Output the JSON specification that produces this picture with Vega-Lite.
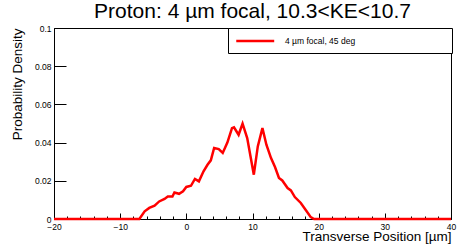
{
  "$schema": "https://vega.github.io/schema/vega-lite/v6.json",
  "width": 397,
  "height": 191,
  "autosize": "none",
  "padding": {"left": 54, "top": 28, "right": 7, "bottom": 25},
  "background": "white",
  "title": {"text": "Proton: 4 µm focal, 10.3<KE<10.7", "font": "Liberation Sans", "fontSize": 21, "fontWeight": "normal", "color": "black", "anchor": "middle", "baseline": "alphabetic", "offset": -15, "frame": "group"},
  "config": {
    "view": {"stroke": "black", "strokeWidth": 1},
    "axis": {"domainColor": "black", "tickColor": "black", "labelColor": "black", "titleColor": "black", "labelFont": "Liberation Sans", "titleFont": "Liberation Sans", "grid": false, "titleFontWeight": "normal", "ticks": true, "tickWidth": 1}
  },
  "data": {"values": [
    {"x": -20, "y": 0, "s": "4 µm focal, 45 deg"},
    {"x": -7.1, "y": 0, "s": "4 µm focal, 45 deg"},
    {"x": -6.3, "y": 0.004, "s": "4 µm focal, 45 deg"},
    {"x": -5.6, "y": 0.0058, "s": "4 µm focal, 45 deg"},
    {"x": -4.8, "y": 0.007, "s": "4 µm focal, 45 deg"},
    {"x": -4.1, "y": 0.0092, "s": "4 µm focal, 45 deg"},
    {"x": -3.3, "y": 0.0105, "s": "4 µm focal, 45 deg"},
    {"x": -2.8, "y": 0.0118, "s": "4 µm focal, 45 deg"},
    {"x": -2.1, "y": 0.0118, "s": "4 µm focal, 45 deg"},
    {"x": -1.8, "y": 0.0139, "s": "4 µm focal, 45 deg"},
    {"x": -1.1, "y": 0.0132, "s": "4 µm focal, 45 deg"},
    {"x": -0.5, "y": 0.0145, "s": "4 µm focal, 45 deg"},
    {"x": 0.0, "y": 0.0168, "s": "4 µm focal, 45 deg"},
    {"x": 0.7, "y": 0.0174, "s": "4 µm focal, 45 deg"},
    {"x": 1.3, "y": 0.021, "s": "4 µm focal, 45 deg"},
    {"x": 1.9, "y": 0.0197, "s": "4 µm focal, 45 deg"},
    {"x": 2.6, "y": 0.025, "s": "4 µm focal, 45 deg"},
    {"x": 3.2, "y": 0.0284, "s": "4 µm focal, 45 deg"},
    {"x": 3.7, "y": 0.0307, "s": "4 µm focal, 45 deg"},
    {"x": 4.2, "y": 0.0372, "s": "4 µm focal, 45 deg"},
    {"x": 4.9, "y": 0.0366, "s": "4 µm focal, 45 deg"},
    {"x": 5.5, "y": 0.0346, "s": "4 µm focal, 45 deg"},
    {"x": 6.2, "y": 0.040, "s": "4 µm focal, 45 deg"},
    {"x": 6.9, "y": 0.0476, "s": "4 µm focal, 45 deg"},
    {"x": 7.2, "y": 0.048, "s": "4 µm focal, 45 deg"},
    {"x": 7.9, "y": 0.0441, "s": "4 µm focal, 45 deg"},
    {"x": 8.5, "y": 0.0499, "s": "4 µm focal, 45 deg"},
    {"x": 9.2, "y": 0.0424, "s": "4 µm focal, 45 deg"},
    {"x": 10.2, "y": 0.0232, "s": "4 µm focal, 45 deg"},
    {"x": 10.8, "y": 0.038, "s": "4 µm focal, 45 deg"},
    {"x": 11.5, "y": 0.0476, "s": "4 µm focal, 45 deg"},
    {"x": 12.1, "y": 0.0389, "s": "4 µm focal, 45 deg"},
    {"x": 12.8, "y": 0.0319, "s": "4 µm focal, 45 deg"},
    {"x": 13.4, "y": 0.0272, "s": "4 µm focal, 45 deg"},
    {"x": 14.0, "y": 0.0215, "s": "4 µm focal, 45 deg"},
    {"x": 14.5, "y": 0.0202, "s": "4 µm focal, 45 deg"},
    {"x": 15.3, "y": 0.0162, "s": "4 µm focal, 45 deg"},
    {"x": 15.8, "y": 0.015, "s": "4 µm focal, 45 deg"},
    {"x": 16.4, "y": 0.0115, "s": "4 µm focal, 45 deg"},
    {"x": 17.3, "y": 0.0084, "s": "4 µm focal, 45 deg"},
    {"x": 18.1, "y": 0.0045, "s": "4 µm focal, 45 deg"},
    {"x": 18.8, "y": 0.001, "s": "4 µm focal, 45 deg"},
    {"x": 19.3, "y": 0, "s": "4 µm focal, 45 deg"},
    {"x": 40, "y": 0, "s": "4 µm focal, 45 deg"}
  ]},
  "mark": {"type": "line", "strokeWidth": 2.5, "clip": false},
  "encoding": {
    "x": {"field": "x", "type": "quantitative",
      "scale": {"domain": [-20, 40], "nice": false, "zero": false},
      "axis": {"title": "Transverse Position [µm]", "titleFontSize": 13.5, "titleAnchor": "end", "titleAlign": "right", "titleBaseline": "alphabetic", "titleX": 397, "titleY": 21,
        "values": [-20,-18,-16,-14,-12,-10,-8,-6,-4,-2,0,2,4,6,8,10,12,14,16,18,20,22,24,26,28,30,32,34,36,38,40],
        "labelExpr": "datum.value % 10 === 0 ? datum.label : ''",
        "tickSize": {"condition": {"test": "datum.value % 10 === 0", "value": -6}, "value": -3},
        "labelPadding": 9, "labelFontSize": 8.5, "labelFlush": false, "labelOverlap": false}
    },
    "y": {"field": "y", "type": "quantitative",
      "scale": {"domain": [0, 0.1], "nice": false},
      "axis": {"title": "Probability Density", "titleFontSize": 13.5, "titleAnchor": "end", "titleAlign": "right", "titleBaseline": "middle", "titleAngle": -90, "titleX": -37, "titleY": 0,
        "values": [0, 0.02, 0.04, 0.06, 0.08, 0.1], "format": "~g",
        "tickSize": -12, "labelPadding": 15, "labelFontSize": 8.5, "labelFlush": false, "labelOverlap": false}
    },
    "color": {"field": "s", "type": "nominal", "scale": {"range": ["#ff0000"]},
      "legend": {"title": "\u00a0", "titleOrient": "right", "titlePadding": 90, "titleFontSize": 8.5, "orient": "none", "legendX": 174, "legendY": 0, "direction": "vertical",
        "fillColor": "white", "strokeColor": "black", "padding": 7,
        "symbolType": "M-1,0H7", "symbolSize": 90, "symbolStrokeWidth": 2.5, "symbolStrokeColor": "#ff0000",
        "labelOffset": 38, "labelFontSize": 8.5, "labelFont": "Liberation Sans", "labelColor": "black"}
    }
  }
}
